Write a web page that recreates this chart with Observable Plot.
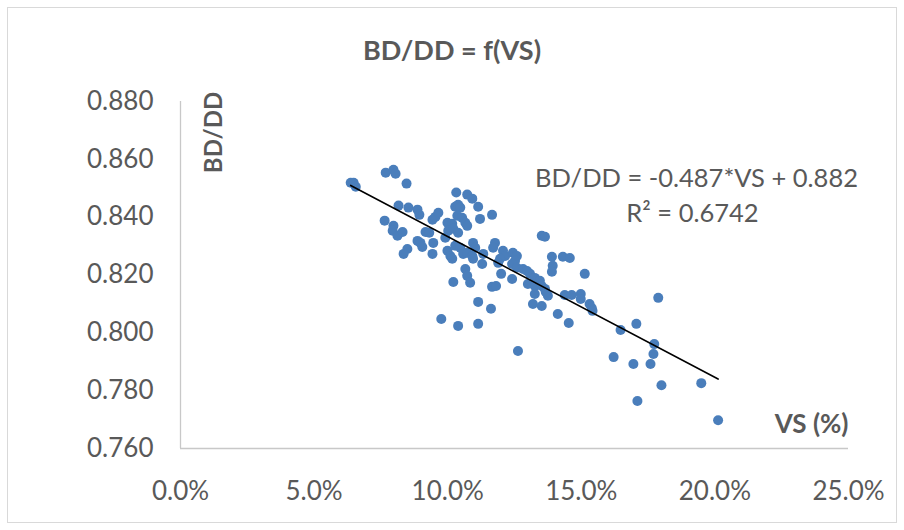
<!DOCTYPE html>
<html>
<head>
<meta charset="utf-8">
<script src="https://cdn.jsdelivr.net/npm/d3@7"></script>
<script src="https://cdn.jsdelivr.net/npm/@observablehq/plot@0.6"></script>
<style>
  body { margin: 0; background: #fff; }
  #chart { position: relative; width: 904px; height: 530px; font-family: Lato, "Open Sans", sans-serif; }
  #frame { position: absolute; left: 7px; top: 7px; width: 888px; height: 514px; border: 1px solid #d9d9d9; }
  #title { position: absolute; left: 0; top: 33px; width: 904px; text-align: center; font-weight: bold; font-size: 27px; line-height: 34px; color: #595959; }
  #chart svg { position: absolute; left: 0; top: 0; }
</style>
</head>
<body>
<div id="chart">
  <div id="frame"></div>
  <div id="title">BD/DD = f(VS)</div>
</div>
<script>
// VS (fraction) and BD/DD values
const vs = [
  0.0637, 0.0648, 0.0656, 0.0768, 0.0797, 0.0805, 0.0846, 0.0816, 0.0853, 0.0887,
  0.0894, 0.0764, 0.0797, 0.0794, 0.0812, 0.0831, 0.0887, 0.0898, 0.0905, 0.0849,
  0.0835, 0.0917, 0.0931, 0.0946, 0.0943, 0.0943, 0.0954, 0.0965, 0.1032, 0.1073,
  0.1092, 0.1114, 0.1028, 0.1039, 0.1047, 0.1166, 0.1121, 0.1036, 0.1054, 0.1066,
  0.1073, 0.0999, 0.1017, 0.1002, 0.1021, 0.1039, 0.0991, 0.0999, 0.1010, 0.1017,
  0.1028, 0.1047, 0.1058, 0.1073, 0.1095, 0.1103, 0.1092, 0.1095, 0.1133, 0.1129,
  0.1177, 0.1170, 0.1207, 0.1215, 0.1196, 0.1189, 0.1244, 0.1259, 0.1252, 0.1066,
  0.1073, 0.1084, 0.1021, 0.1200, 0.1241, 0.1166, 0.1181, 0.1114, 0.1162, 0.0976,
  0.1039, 0.1114, 0.1352, 0.1364, 0.1390, 0.1431, 0.1457, 0.1393, 0.1390, 0.1241,
  0.1259, 0.1282, 0.1297, 0.1308, 0.1326, 0.1345, 0.1300, 0.1326, 0.1352, 0.1364,
  0.1326, 0.1375, 0.1438, 0.1464, 0.1498, 0.1498, 0.1319, 0.1352, 0.1412, 0.1453,
  0.1513, 0.1531, 0.1539, 0.1542, 0.1647, 0.1706, 0.1788, 0.1773, 0.1770, 0.1621,
  0.1695, 0.1759, 0.1800, 0.1949, 0.1710, 0.2012, 0.1263, 0.1367
];
const bdd = [
  0.8519, 0.8519, 0.8505, 0.8554, 0.8564, 0.8550, 0.8516, 0.8440, 0.8433, 0.8426,
  0.8408, 0.8388, 0.8370, 0.8353, 0.8336, 0.8349, 0.8318, 0.8311, 0.8297, 0.8290,
  0.8273, 0.8349, 0.8346, 0.8311, 0.8273, 0.8391, 0.8401, 0.8415, 0.8485, 0.8478,
  0.8464, 0.8436, 0.8436, 0.8443, 0.8433, 0.8408, 0.8394, 0.8405, 0.8398, 0.8381,
  0.8370, 0.8381, 0.8377, 0.8353, 0.8360, 0.8346, 0.8329, 0.8284, 0.8266, 0.8256,
  0.8301, 0.8294, 0.8273, 0.8277, 0.8311, 0.8294, 0.8266, 0.8256, 0.8273, 0.8238,
  0.8311, 0.8294, 0.8284, 0.8266, 0.8256, 0.8242, 0.8277, 0.8266, 0.8249, 0.8221,
  0.8197, 0.8173, 0.8176, 0.8204, 0.8186, 0.8159, 0.8162, 0.8107, 0.8083, 0.8048,
  0.8024, 0.8031, 0.8336, 0.8332, 0.8263, 0.8263, 0.8259, 0.8232, 0.8211, 0.8238,
  0.8225, 0.8221, 0.8214, 0.8204, 0.8190, 0.8180, 0.8169, 0.8162, 0.8162, 0.8152,
  0.8134, 0.8128, 0.8131, 0.8131, 0.8134, 0.8117, 0.8100, 0.8093, 0.8065, 0.8034,
  0.8204, 0.8100, 0.8086, 0.8076, 0.8010, 0.8031, 0.8121, 0.7961, 0.7927, 0.7916,
  0.7892, 0.7892, 0.7819, 0.7826, 0.7764, 0.7698, 0.7937, 0.8141
];
const xTicks = [0, 0.05, 0.10, 0.15, 0.20, 0.25];
const yTicks = [0.76, 0.78, 0.80, 0.82, 0.84, 0.86, 0.88];
const slope = -0.487;
const intercept = 0.882;
const equationText = "BD/DD = -0.487*VS + 0.882";
const r2Text = "R² = 0.6742";
const yLabel = "BD/DD";
const xLabel = "VS (%)";

const data = vs.map((v, i) => ({vs: v, bdd: bdd[i]}));
const ext = d3.extent(vs);
const fit = ext.map(v => ({vs: v, bdd: slope * v + intercept}));

const textColor = "#595959";
const chart = Plot.plot({
  width: 904,
  height: 530,
  marginLeft: 180,
  marginRight: 56,
  marginTop: 101,
  marginBottom: 82,
  style: {fontFamily: "Lato, 'Open Sans', sans-serif", fontSize: "26px", color: textColor, background: "transparent", overflow: "visible"},
  x: {domain: [0, 0.25]},
  y: {domain: [0.76, 0.88]},
  marks: [
    Plot.axisX({ticks: xTicks, tickFormat: d3.format(".1%"), tickSize: 0, tickPadding: 33, label: null, fill: textColor, fontSize: 26}),
    Plot.axisY({ticks: yTicks, tickFormat: d3.format(".3f"), tickSize: 0, tickPadding: 27, label: null, fill: textColor, fontSize: 26}),
    Plot.ruleX([0], {stroke: "#c8c8c8", strokeWidth: 1.3}),
    Plot.ruleY([0.76], {stroke: "#c8c8c8", strokeWidth: 1.3}),
    Plot.dot(data, {x: "vs", y: "bdd", r: 5, fill: "#4a7ebb", stroke: "none"}),
    Plot.line(fit, {x: "vs", y: "bdd", stroke: "#000", strokeWidth: 1.6}),
    Plot.text([equationText], {text: d => d, frameAnchor: "top-right", textAnchor: "middle", dx: -152, dy: 67, fontSize: 25.5, fill: textColor}),
    Plot.text([r2Text], {text: d => d, frameAnchor: "top-right", textAnchor: "middle", dx: -156, dy: 102, fontSize: 25.5, fill: textColor}),
    Plot.text([yLabel], {text: d => d, frameAnchor: "top-left", textAnchor: "middle", rotate: -90, dx: 24, dy: 31, fontSize: 24, fontWeight: "bold", fill: textColor}),
    Plot.text([xLabel], {text: d => d, frameAnchor: "bottom-right", textAnchor: "end", dx: 0, dy: -16, fontSize: 26, fontWeight: "bold", fill: textColor})
  ]
});
document.getElementById("chart").appendChild(chart);
</script>
</body>
</html>
